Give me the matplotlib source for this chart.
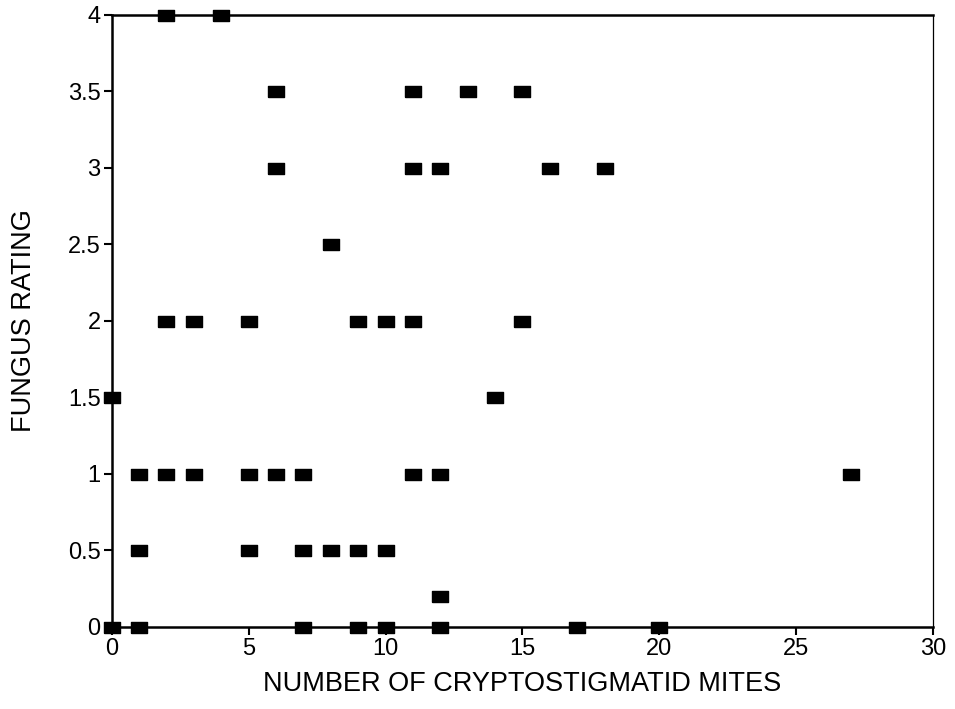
import matplotlib
matplotlib.use('Agg')
import matplotlib.pyplot as plt

# mite counts and fungus rating, grouped by rating level
mites_40 = [2, 4]
mites_35 = [6, 11, 13, 15]
mites_30 = [6, 11, 12, 16, 18]
mites_25 = [8]
mites_20 = [2, 3, 5, 9, 10, 11, 15]
mites_15 = [0, 14]
mites_10 = [1, 2, 3, 5, 6, 7, 11, 12, 27]
mites_05 = [1, 5, 7, 8, 9, 10]
mites_02 = [12]
mites_00 = [0, 1, 7, 9, 10, 12, 17, 20]

groups = [(4.0, mites_40), (3.5, mites_35), (3.0, mites_30), (2.5, mites_25),
          (2.0, mites_20), (1.5, mites_15), (1.0, mites_10), (0.5, mites_05),
          (0.2, mites_02), (0.0, mites_00)]

x_ticks = [0, 5, 10, 15, 20, 25, 30]
y_ticks = [0, 0.5, 1, 1.5, 2, 2.5, 3, 3.5, 4]
y_labels = ['0', '0.5', '1', '1.5', '2', '2.5', '3', '3.5', '4']

plt.rcParams['font.family'] = ['Liberation Sans', 'DejaVu Sans']

fig = plt.figure(figsize=(9.55, 7.09), dpi=100)
ax = fig.add_axes([0.117, 0.116, 0.860, 0.863])

xs, ys = [], []
for rating, counts in groups:
    for c in counts:
        xs.append(c)
        ys.append(rating)

# wide flat square marker
box = [(-1, -0.72), (1, -0.72), (1, 0.72), (-1, 0.72), (-1, -0.72)]
ax.plot(xs, ys, linestyle='none', marker=box, markersize=11,
        color='black', clip_on=False, zorder=3)

ax.set_xlim(0, 30)
ax.set_ylim(0, 4)
ax.set_xticks(x_ticks)
ax.set_yticks(y_ticks)
ax.set_yticklabels(y_labels)
ax.tick_params(axis='both', direction='out', length=6, width=1.5,
               labelsize=17, pad=2)

for side in ['left', 'bottom', 'top']:
    ax.spines[side].set_linewidth(1.8)
ax.spines['right'].set_linewidth(0.9)

ax.set_xlabel('NUMBER OF CRYPTOSTIGMATID MITES', fontsize=19.5, labelpad=8)
ax.set_ylabel('FUNGUS RATING', fontsize=19.5, labelpad=22)

plt.savefig('out.png', dpi=100)
plt.close()
